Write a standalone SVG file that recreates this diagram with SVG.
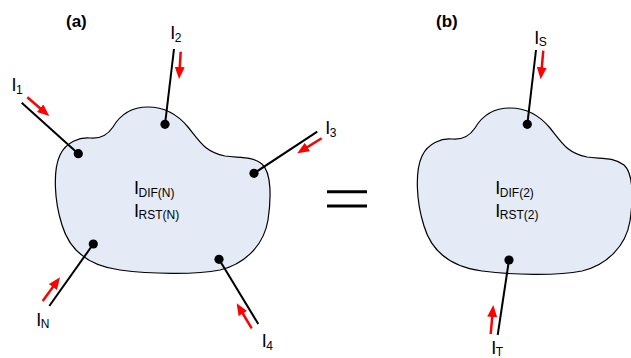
<svg xmlns="http://www.w3.org/2000/svg" width="631" height="358" viewBox="0 0 631 358">
<style>
.blob{fill:#E4EBF6;stroke:#000;stroke-width:1.2}
.wire{stroke:#000;stroke-width:2;fill:none}
.dot{fill:#000}
.flow{stroke:#FF0000;stroke-width:2.5;fill:none;marker-end:url(#ah)}
.lbl{font-family:"Liberation Sans",Arial,sans-serif;font-size:18px;fill:#000}
.sub{font-size:12px}
.ttl{font-family:"Liberation Sans",Arial,sans-serif;font-size:17px;font-weight:bold;fill:#000}
.eq{stroke:#000;stroke-width:3}
</style>
<defs>
<marker id="ah" markerUnits="userSpaceOnUse" markerWidth="12" markerHeight="10" refX="3" refY="5" orient="auto">
<path d="M0,0 L12,5 L0,10 z" fill="#FF0000"/>
</marker>
<path id="shape" d="M60,155 C66,142 80,137 90,138 C100,139 107,136 113,127 C120,115 132,107 148,107 C165,107 178,115 188,127 C200,142 205,152 225,156 C240,158 252,156 262,164 C272,173 271,200 268,220 C264,245 245,264 220,270 C195,275 150,274 120,270 C90,266 70,252 62,225 C54,200 53,170 60,155 Z"/>
</defs>
<rect width="631" height="358" fill="#fff"/>
<text class="ttl" x="66" y="26.5">(a)</text>
<text class="ttl" x="436" y="27">(b)</text>
<g id="nodeA">
<use href="#shape" class="blob"/>
<text class="lbl" x="134" y="194">I<tspan class="sub" dx="-0.5" dy="2.5">DIF(N)</tspan></text>
<text class="lbl" x="134" y="216.5">I<tspan class="sub" dx="-0.5" dy="2.5">RST(N)</tspan></text>
</g>
<g id="nodeB">
<use href="#shape" class="blob" transform="translate(362,1)"/>
<text class="lbl" x="495.3" y="194">I<tspan class="sub" dx="-0.5" dy="2.5">DIF(2)</tspan></text>
<text class="lbl" x="495.3" y="216.5">I<tspan class="sub" dx="-0.5" dy="2.5">RST(2)</tspan></text>
</g>
<g id="equals">
<line class="eq" x1="327" y1="191.7" x2="367" y2="191.7"/>
<line class="eq" x1="327" y1="206" x2="367" y2="206"/>
</g>
<g id="connectors">
<line class="wire" x1="21.7" y1="102.7" x2="78.3" y2="153.7"/>
<line class="wire" x1="174" y1="49" x2="165" y2="124.3"/>
<line class="wire" x1="317.3" y1="131.7" x2="254" y2="173.3"/>
<line class="wire" x1="49.3" y1="306" x2="93.3" y2="244"/>
<line class="wire" x1="258.3" y1="324" x2="219" y2="259.3"/>
<line class="wire" x1="536" y1="50" x2="527.3" y2="124.3"/>
<line class="wire" x1="497.7" y1="335" x2="509" y2="260"/>
<circle class="dot" cx="78.3" cy="153.7" r="4.6"/>
<circle class="dot" cx="165" cy="124.3" r="4.6"/>
<circle class="dot" cx="254" cy="173.3" r="4.6"/>
<circle class="dot" cx="93.3" cy="244" r="4.6"/>
<circle class="dot" cx="219" cy="259.3" r="4.6"/>
<circle class="dot" cx="527.3" cy="124.3" r="4.6"/>
<circle class="dot" cx="509" cy="260" r="4.6"/>
<line class="flow" x1="27.3" y1="97.3" x2="42.4" y2="110.2"/>
<line class="flow" x1="180.7" y1="51.7" x2="179.6" y2="70"/>
<line class="flow" x1="321.7" y1="138.3" x2="304.9" y2="148.6"/>
<line class="flow" x1="42.7" y1="301" x2="54.7" y2="284.6"/>
<line class="flow" x1="251.7" y1="328.3" x2="241.3" y2="311"/>
<line class="flow" x1="543.3" y1="50.7" x2="541.5" y2="70.3"/>
<line class="flow" x1="490.7" y1="334" x2="492.5" y2="314"/>
</g>
<g id="labels">
<text class="lbl" x="11.6" y="91">I<tspan class="sub" dx="-0.5" dy="2.5">1</tspan></text>
<text class="lbl" x="170.3" y="39">I<tspan class="sub" dx="-0.5" dy="2.5">2</tspan></text>
<text class="lbl" x="325.3" y="134">I<tspan class="sub" dx="-0.5" dy="2.5">3</tspan></text>
<text class="lbl" x="36.3" y="325.5">I<tspan class="sub" dx="-0.5" dy="2.5">N</tspan></text>
<text class="lbl" x="261.8" y="347">I<tspan class="sub" dx="-0.5" dy="2.5">4</tspan></text>
<text class="lbl" x="534.3" y="43.5">I<tspan class="sub" dx="-0.5" dy="2.5">S</tspan></text>
<text class="lbl" x="491.3" y="353.5">I<tspan class="sub" dx="-0.5" dy="2">T</tspan></text>
</g>
</svg>
